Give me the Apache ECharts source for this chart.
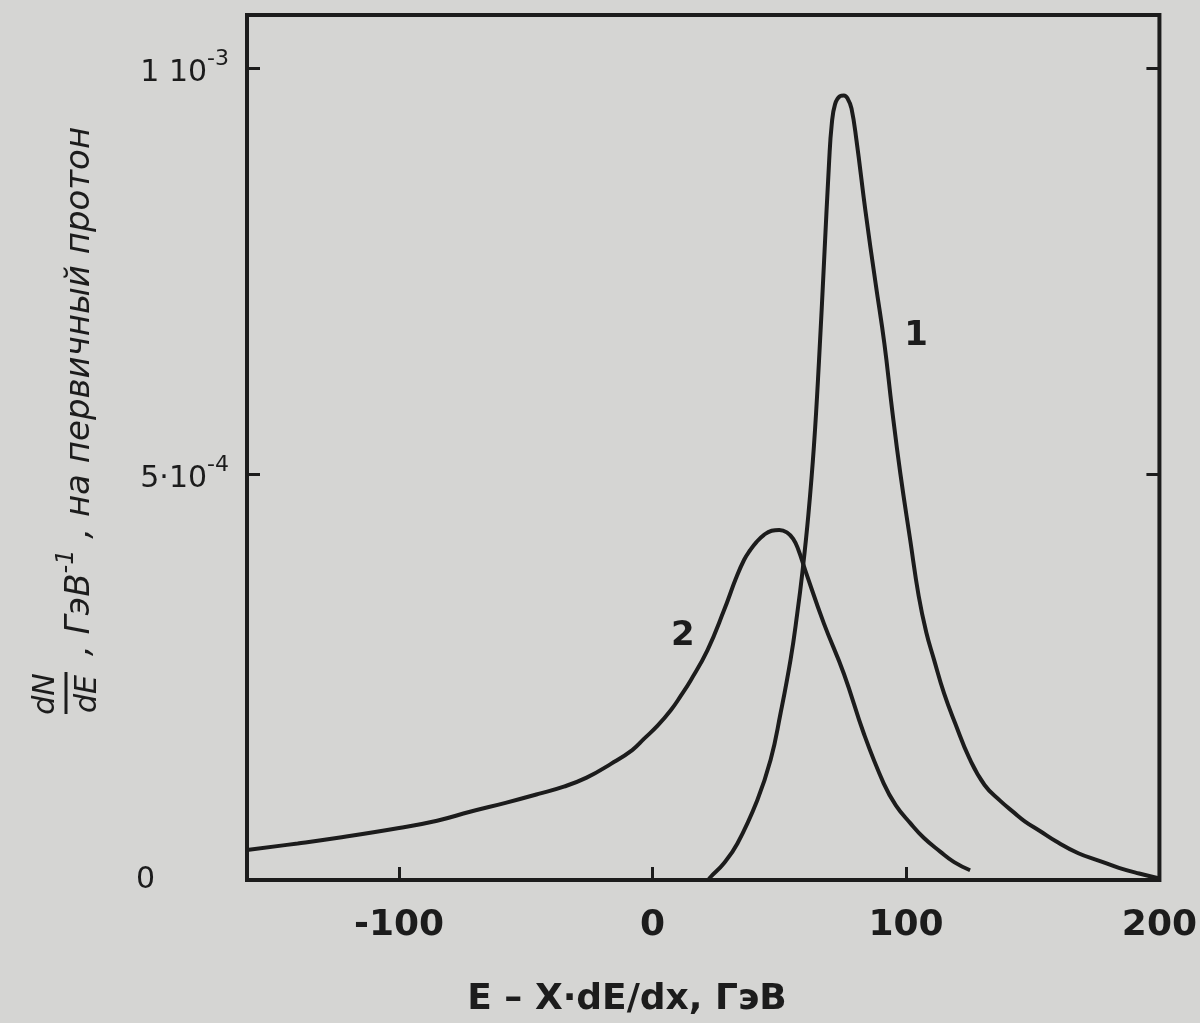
<!DOCTYPE html>
<html>
<head>
<meta charset="utf-8">
<title>dN/dE</title>
<script src="https://cdn.jsdelivr.net/npm/echarts@6/dist/echarts.min.js"></script>
<style>
    html, body { margin: 0; padding: 0; background: #d5d5d3; }
    #chart { width: 1200px; height: 1023px; }
</style>
</head>
<body>
<div id="chart"></div>
<script>
    // ось X: E - X*dE/dx, ГэВ
    var xRange = [-160, 200];
    var xTickValues = [-100, 0, 100];
    var xLabelValues = [-100, 0, 100, 200];
    var xLabelText = ['-100', '0', '100', '200'];
    // ось Y в единицах 10^-4 1/ГэВ
    var yRange = [0, 10.65];
    var yTickValues = [5, 10];
    var yLabelValues = [0, 5, 10];
    var yLabelBase = ['0', '5·10', '1 10'];
    var yLabelExp = ['', '-4', '-3'];

    // кривая 1
    var curve1E = [22, 23, 28, 33.5, 41.3, 46.6, 50.5, 54.5, 57.1, 59.1, 61.5, 63.7, 65.7, 67.7, 69.7, 70.7, 72, 74, 75.5, 77, 78.5, 80.5,
        84, 88, 91.5, 94.5, 97.8, 101.7, 105, 108, 111, 115, 119.4, 125, 131, 137, 143, 147, 153, 159, 168, 176, 184, 192, 200];
    var curve1N = [0, 0.04, 0.2, 0.45, 0.98, 1.48, 2.05, 2.72, 3.28, 3.78, 4.5, 5.35, 6.40, 7.63, 8.86, 9.3, 9.55, 9.65, 9.66, 9.62, 9.5, 9.1,
        8.24, 7.35, 6.6, 5.8, 5.0, 4.18, 3.5, 3.05, 2.72, 2.3, 1.93, 1.5, 1.17, 0.98, 0.82, 0.72, 0.6, 0.48, 0.33, 0.24, 0.15, 0.08, 0.02];
    // кривая 2
    var curve2E = [-160, -140, -124, -100, -85, -72, -58, -45, -35, -26, -16.4, -8, -3.3, 2, 7.2, 11, 15.1, 21.7, 28.2, 33, 36.1, 38.5, 41, 44, 47, 50,
        53, 55.5, 57.5, 60.4, 67.6, 75.5, 83.4, 91.2, 96, 101.7, 107, 113.5, 119, 125.3];
    var curve2N = [0.37, 0.45, 0.52, 0.64, 0.73, 0.84, 0.95, 1.06, 1.15, 1.26, 1.43, 1.6, 1.74, 1.9, 2.09, 2.26, 2.46, 2.83, 3.32, 3.72, 3.94, 4.06, 4.16, 4.25, 4.3, 4.31,
        4.28, 4.2, 4.07, 3.8, 3.16, 2.54, 1.80, 1.19, 0.92, 0.70, 0.52, 0.35, 0.22, 0.12];

    var curveNames = ['1', '2'];
    var curveLabelAt = [[104, 6.7], [12, 3.0]];

    var ink = '#1c1c1c';
    var font = 'DejaVu Sans';

    function zip(xs, ys) {
        return xs.map(function (x, i) { return [x, ys[i]]; });
    }

    function curveSeries(name, data, labelAt) {
        return {
            name: name,
            type: 'line',
            data: data,
            smooth: 0.45,
            symbol: 'none',
            lineStyle: { color: ink, width: 4 },
            markPoint: {
                symbol: 'circle',
                symbolSize: 1,
                silent: true,
                itemStyle: { color: 'rgba(0,0,0,0)' },
                label: {
                    show: true, position: 'inside', formatter: name,
                    fontSize: 34, fontWeight: 'bold', fontFamily: font, color: ink
                },
                data: [{ coord: labelAt }]
            }
        };
    }

    var chart = echarts.init(document.getElementById('chart'));
    chart.setOption({
        animation: false,
        backgroundColor: '#d5d5d3',
        grid: {
            left: 247, right: 38, top: 15, bottom: 143,
            show: true, borderColor: ink, borderWidth: 4
        },
        xAxis: {
            type: 'value',
            min: xRange[0], max: xRange[1],
            axisLine: { show: false, onZero: false },
            splitLine: { show: false },
            axisTick: { inside: true, length: 13, customValues: xTickValues, lineStyle: { color: ink, width: 3 } },
            axisLabel: {
                customValues: xLabelValues,
                margin: 28,
                fontSize: 36, fontWeight: 'bold', fontFamily: font, color: ink,
                formatter: function (v) { return xLabelText[xLabelValues.indexOf(v)]; }
            }
        },
        yAxis: [{
            type: 'value',
            position: 'left',
            min: yRange[0], max: yRange[1],
            axisLine: { show: false, onZero: false },
            splitLine: { show: false },
            axisTick: { inside: true, length: 13, customValues: yTickValues, lineStyle: { color: ink, width: 3 } },
            axisLabel: {
                customValues: yLabelValues,
                margin: 18,
                formatter: function (v) {
                    var i = yLabelValues.indexOf(v);
                    if (!yLabelExp[i]) return '{z|' + yLabelBase[i] + '}';
                    return '{b|' + yLabelBase[i] + '}{s|' + yLabelExp[i] + '}';
                },
                rich: {
                    b: { fontSize: 30, fontFamily: font, color: ink, verticalAlign: 'bottom' },
                    s: { fontSize: 22, fontFamily: font, color: ink, verticalAlign: 'bottom', padding: [0, 0, 18, 0] },
                    z: { fontSize: 30, fontFamily: font, color: ink, padding: [0, 74, 0, 0] }
                }
            }
        }, {
            type: 'value',
            position: 'right',
            min: yRange[0], max: yRange[1],
            axisLine: { show: false, onZero: false },
            splitLine: { show: false },
            axisLabel: { show: false },
            axisTick: { show: true, inside: true, length: 13, customValues: yTickValues, lineStyle: { color: ink, width: 3 } }
        }],
        graphic: [{
            type: 'text',
            x: 627, y: 1000,
            style: {
                text: 'E – X·dE/dx, ГэВ',
                fontSize: 36, fontWeight: 'bold', fontFamily: font, fill: ink,
                align: 'center', verticalAlign: 'middle', textAlign: 'center', textVerticalAlign: 'middle'
            }
        }, {
            type: 'group',
            x: 66, y: 722,
            rotation: Math.PI / 2,
            children: [{
                type: 'text', x: 28, y: -20,
                style: {
                    text: 'dN', fontSize: 30, fontStyle: 'italic', fontFamily: font, fill: ink,
                    align: 'center', verticalAlign: 'middle', textAlign: 'center', textVerticalAlign: 'middle'
                }
            }, {
                type: 'line',
                shape: { x1: 8, y1: 0, x2: 50, y2: 0 },
                style: { stroke: ink, lineWidth: 3 }
            }, {
                type: 'text', x: 28, y: 22,
                style: {
                    text: 'dE', fontSize: 30, fontStyle: 'italic', fontFamily: font, fill: ink,
                    align: 'center', verticalAlign: 'middle', textAlign: 'center', textVerticalAlign: 'middle'
                }
            }, {
                type: 'text', x: 66, y: 10,
                style: {
                    text: '{t|, ГэВ}{s|-1}{t| , на первичный протон}',
                    align: 'left', verticalAlign: 'middle', textAlign: 'left', textVerticalAlign: 'middle',
                    rich: {
                        t: { fontSize: 34, fontStyle: 'italic', fontFamily: font, fill: ink, color: ink, verticalAlign: 'bottom' },
                        s: { fontSize: 24, fontStyle: 'italic', fontFamily: font, fill: ink, color: ink, verticalAlign: 'bottom', padding: [0, 0, 18, 0] }
                    }
                }
            }]
        }],
        series: [
            curveSeries(curveNames[0], zip(curve1E, curve1N), curveLabelAt[0]),
            curveSeries(curveNames[1], zip(curve2E, curve2N), curveLabelAt[1])
        ]
    });
</script>
</body>
</html>
